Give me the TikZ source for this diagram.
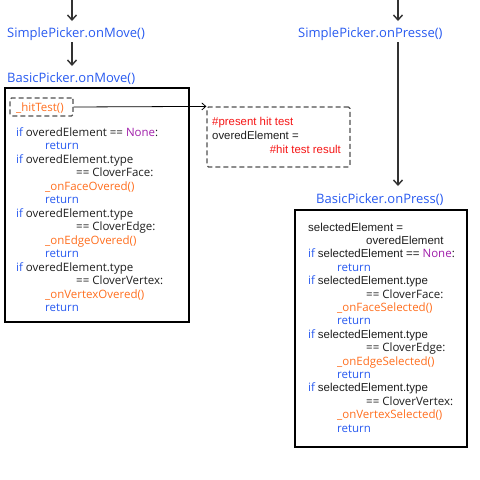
\documentclass[tikz,border=0pt]{standalone}
\usepackage{fontspec}
\setmainfont{Open Sans}
\newfontfamily\arialf{Liberation Sans}
\usetikzlibrary{arrows.meta}
\definecolor{kwblue}{RGB}{40,90,240}
\definecolor{kwpurple}{RGB}{160,30,170}
\definecolor{fnorange}{RGB}{255,110,30}
\definecolor{cmred}{RGB}{245,20,20}
\definecolor{txt}{RGB}{30,30,30}
\definecolor{arrgray}{RGB}{50,50,50}
\definecolor{dashgray}{RGB}{80,80,80}
\newcommand{\ar}[1]{{\arialf #1}}
\begin{document}
\begin{tikzpicture}[x=1pt,y=-1pt,
  title/.style={font=\fontsize{13}{15}\selectfont, text=kwblue, inner sep=0pt, anchor=base west},
  code/.style={font=\fontsize{11.5}{13}\selectfont, text=txt, inner sep=0pt, anchor=base west},
  rcode/.style={font=\fontsize{11.5}{14}\selectfont, text=txt, inner sep=0pt, anchor=base west},
  dcode/.style={font=\arialf\fontsize{11.4}{14}\selectfont, text=txt, inner sep=0pt, anchor=base west},
  arr/.style={draw=arrgray, line width=1.4pt, -{Straight Barb[length=5pt,width=9pt]}},
  thinarr/.style={draw=black, line width=0.8pt, -{Straight Barb[length=4pt,width=7pt]}},
  codebox/.style={draw=black, line width=1.4pt, inner sep=0pt},
  dbox/.style={draw=dashgray, line width=1.2pt, dash pattern=on 5pt off 3pt, rounded corners=1.5pt, inner sep=0pt}]
\useasboundingbox (0,0) rectangle (480,480);
% left column
\coordinate (ltop) at (72,0);
\node[title] (smove) at (7,37) {SimplePicker.onMove()};
\node[title] (bmove) at (7,82) {BasicPicker.onMove()};
\draw[arr] (ltop) -- (72,21);
\draw[arr] (72,42) -- (72,66);
\node[codebox, minimum width=184pt, minimum height=234pt] (lbox) at (97,205) {};
\node[dbox, minimum width=63pt, minimum height=18pt] (hitbox) at (41.5,107) {};
\node[code, text=fnorange] (hit) at (16,111) {\_hitTest()};
\node[dbox, minimum width=143pt, minimum height=60pt] (resbox) at (278.5,137) {};
\draw[thinarr] (hitbox.east) -- (resbox.north west);
\node[dcode, text=cmred] (r1) at (212,125) {\#present hit test};
\node[dcode] (r2) at (212,139) {overedElement =};
\node[dcode, text=cmred, anchor=base east] (r3) at (341,153) {\#hit test result};
% left code
\node[code] (a0) at (16,136) {\textcolor{kwblue}{if} overedElement == \textcolor{kwpurple}{None}:};
\node[code, text=kwblue] (a1) at (45,149.5) {return};
\node[code] (a2) at (16,163) {\textcolor{kwblue}{if} overedElement.type};
\node[code] (a3) at (76,176.5) {== CloverFace:};
\node[code, text=fnorange] (a4) at (45,190) {\_onFaceOvered()};
\node[code, text=kwblue] (a5) at (45,203.5) {return};
\node[code] (a6) at (16,217) {\textcolor{kwblue}{if} overedElement.type};
\node[code] (a7) at (76,230.5) {== CloverEdge:};
\node[code, text=fnorange] (a8) at (45,244) {\_onEdgeOvered()};
\node[code, text=kwblue] (a9) at (45,257.5) {return};
\node[code] (a10) at (16,271) {\textcolor{kwblue}{if} overedElement.type};
\node[code] (a11) at (76,284.5) {== CloverVertex:};
\node[code, text=fnorange] (a12) at (45,298) {\_onVertexOvered()};
\node[code, text=kwblue] (a13) at (45,311.5) {return};
% right column
\coordinate (rtop) at (398,0);
\node[title] (spress) at (298,37) {SimplePicker.onPresse()};
\node[title] (bpress) at (316,203) {BasicPicker.onPress()};
\draw[arr] (rtop) -- (398,21);
\draw[arr] (398,42) -- (398,186);
\node[codebox, minimum width=172pt, minimum height=237pt] (rbox) at (381,328.5) {};
\node[rcode] (b0) at (308,231) {\ar{selectedElement =}};
\node[rcode] (b1) at (366,244.4) {\ar{overedElement}};
\node[rcode] (b2) at (308,257.8) {\textcolor{kwblue}{if} \ar{selectedElement ==} \textcolor{kwpurple}{None}:};
\node[rcode, text=kwblue] (b3) at (337,271.2) {return};
\node[rcode] (b4) at (308,284.6) {\textcolor{kwblue}{if} \ar{selectedElement.type}};
\node[rcode] (b5) at (366,298) {== CloverFace:};
\node[rcode, text=fnorange] (b6) at (337,311.4) {\_onFaceSelected()};
\node[rcode, text=kwblue] (b7) at (337,324.8) {return};
\node[rcode] (b8) at (308,338.2) {\textcolor{kwblue}{if} \ar{selectedElement.type}};
\node[rcode] (b9) at (366,351.6) {== CloverEdge:};
\node[rcode, text=fnorange] (b10) at (337,365) {\_onEdgeSelected()};
\node[rcode, text=kwblue] (b11) at (337,378.4) {return};
\node[rcode] (b12) at (308,391.8) {\textcolor{kwblue}{if} \ar{selectedElement.type}};
\node[rcode] (b13) at (366,405.2) {== CloverVertex:};
\node[rcode, text=fnorange] (b14) at (337,418.6) {\_onVertexSelected()};
\node[rcode, text=kwblue] (b15) at (337,432) {return};
\end{tikzpicture}
\end{document}
